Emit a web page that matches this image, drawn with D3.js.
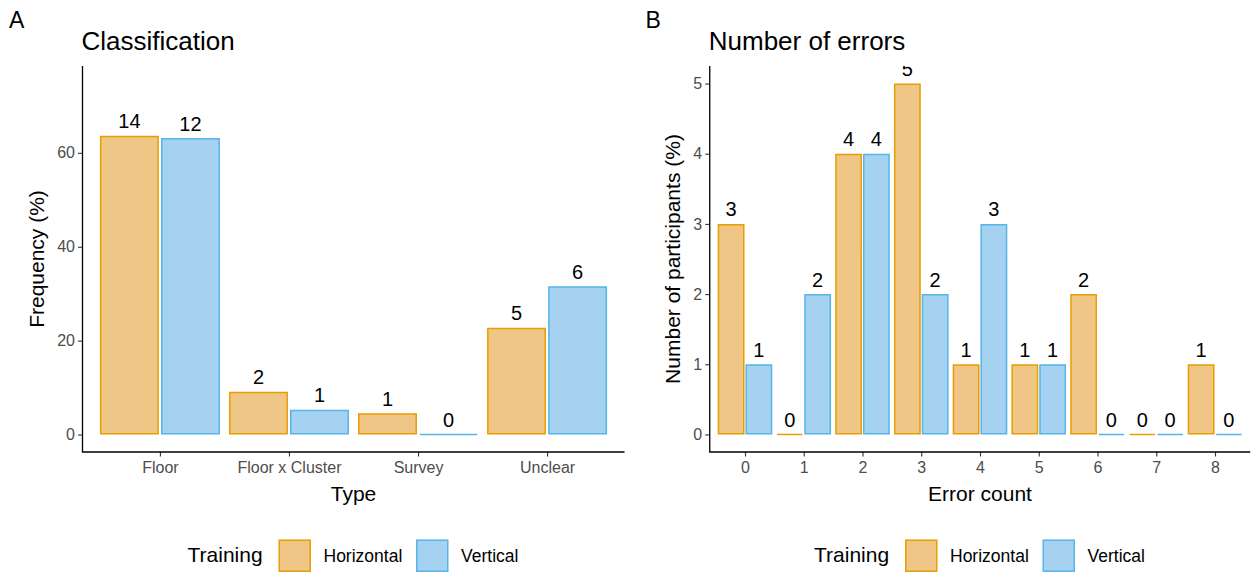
<!DOCTYPE html>
<html>
<head>
<meta charset="utf-8">
<script src="https://cdn.jsdelivr.net/npm/d3@7"></script>
<style>
  html, body { margin: 0; padding: 0; background: #fff; }
  svg { display: block; font-family: "Liberation Sans", Arial, sans-serif; }
</style>
</head>
<body>
<svg id="chart" width="1252" height="575"></svg>
<script>
// ---- data ----
const trainings = ["Horizontal", "Vertical"];

// Panel A: classification of strategies, counts per training group
const typeCategories = ["Floor", "Floor x Cluster", "Survey", "Unclear"];
const typeCountsHorizontal = [14, 2, 1, 5];
const typeCountsVertical = [12, 1, 0, 6];
const freqTicks = [0, 20, 40, 60];

// Panel B: number of participants per error count
const errorCategories = ["0", "1", "2", "3", "4", "5", "6", "7", "8"];
const errorCountsHorizontal = [3, 0, 4, 5, 1, 1, 2, 0, 1];
const errorCountsVertical = [1, 2, 4, 2, 3, 1, 0, 0, 0];
const errorTicks = [0, 1, 2, 3, 4, 5];

// ---- styling ----
const strokeColors = { Horizontal: "#E69F00", Vertical: "#56B4E9" };
const fillColors = { Horizontal: "#EFC686", Vertical: "#A6D2F1" };
const tickGrey = "#4D4D4D";

const svg = d3.select("#chart");

function percent(counts) {
  const total = d3.sum(counts);
  return counts.map(c => c / total * 100);
}

function drawPanel(opt) {
  const g = svg.append("g");
  const x = d3.scalePoint().domain(opt.categories).range([opt.left, opt.right]).padding(0.6);
  const y = d3.scaleLinear().domain(opt.yDomain).range([opt.bottom, opt.top]);
  const step = x.step();
  const slot = 0.465 * step;
  const inset = 0.008 * step;
  const sw = 1.5;

  // panel tag and title
  g.append("text").attr("x", opt.tagX).attr("y", 27.5)
    .attr("font-size", 23).attr("fill", "#000").text(opt.tag);
  g.append("text").attr("x", opt.left - 1).attr("y", 49.5)
    .attr("font-size", 26).attr("fill", "#000").text(opt.title);

  // bars (optionally clipped to the panel)
  let clipId = null;
  if (opt.clip) {
    clipId = "clip-" + opt.tag;
    svg.append("clipPath").attr("id", clipId).append("rect")
      .attr("x", opt.left).attr("y", opt.top)
      .attr("width", opt.right - opt.left).attr("height", opt.bottom - opt.top);
  }
  const barsG = g.append("g");
  if (clipId) barsG.attr("clip-path", `url(#${clipId})`);

  const rows = [];
  opt.categories.forEach((cat, i) => {
    trainings.forEach((tr, j) => {
      rows.push({ cat, tr, j, value: opt.values[tr][i], label: opt.labels[tr][i] });
    });
  });

  rows.forEach(d => {
    const c = x(d.cat);
    const x0 = d.j === 0 ? c - slot : c + inset;
    const x1 = d.j === 0 ? c - inset : c + slot;
    const yv = y(d.value), y0 = y(0);
    const l = x0 + sw / 2, r = x1 - sw / 2;
    const t = yv + sw / 2;
    const b = y0 - sw / 2;
    const path = d.value > 0
      ? `M${l},${t}H${r}V${b}H${l}Z`
      : `M${l},${y0}H${r}`;
    barsG.append("path").attr("d", path)
      .attr("fill", d.value > 0 ? fillColors[d.tr] : "none")
      .attr("stroke", strokeColors[d.tr]).attr("stroke-width", sw);
    barsG.append("text")
      .attr("x", (x0 + x1) / 2).attr("y", yv - 7.5)
      .attr("text-anchor", "middle").attr("font-size", 20).attr("fill", "#000")
      .text(d.label);
  });

  // axes
  const yAxis = d3.axisLeft(y).tickValues(opt.yTicks).tickFormat(d3.format("d"))
    .tickSize(4.5).tickPadding(3);
  const ya = g.append("g").attr("transform", `translate(${opt.left},0)`).call(yAxis);
  ya.select(".domain").remove();
  ya.selectAll(".tick line").attr("stroke", "#333").attr("stroke-width", 1.1);
  ya.selectAll(".tick text").attr("font-size", 16).attr("fill", tickGrey)
    .attr("font-family", "Liberation Sans, Arial, sans-serif");

  const xAxis = d3.axisBottom(x).tickSize(4.5).tickPadding(5);
  const xa = g.append("g").attr("transform", `translate(0,${opt.bottom})`).call(xAxis);
  xa.select(".domain").remove();
  xa.selectAll(".tick line").attr("stroke", "#333").attr("stroke-width", 1.1);
  xa.selectAll(".tick text").attr("font-size", 16).attr("fill", tickGrey)
    .attr("font-family", "Liberation Sans, Arial, sans-serif");

  // axis lines
  g.append("path")
    .attr("d", `M${opt.left},${opt.top}V${opt.bottom}H${opt.right}`)
    .attr("fill", "none").attr("stroke", "#000").attr("stroke-width", 1.3);

  // axis titles
  const cx = (opt.left + opt.right) / 2;
  g.append("text").attr("x", cx).attr("y", 501).attr("text-anchor", "middle")
    .attr("font-size", 21).attr("fill", "#000").text(opt.xTitle);
  g.append("text")
    .attr("transform", `translate(${opt.yTitleX},${(opt.top + opt.bottom) / 2}) rotate(-90)`)
    .attr("text-anchor", "middle").attr("font-size", 21).attr("fill", "#000")
    .text(opt.yTitle);

  // legend
  const lg = g.append("g").attr("transform", `translate(${cx},0)`);
  const ky = 555.7, ks = 32.5;
  lg.append("text").attr("x", -166).attr("y", 562).attr("font-size", 21)
    .attr("fill", "#000").text("Training");
  const keyX = [-75, 62.5], textX = [-30, 107.5];
  trainings.forEach((tr, j) => {
    lg.append("rect")
      .attr("x", keyX[j] + 0.75).attr("y", ky - ks / 2 + 0.75)
      .attr("width", ks - 1.5).attr("height", ks - 1.5)
      .attr("fill", fillColors[tr]).attr("stroke", strokeColors[tr]).attr("stroke-width", 1.5);
    lg.append("text").attr("x", textX[j]).attr("y", 561.5).attr("font-size", 17.5)
      .attr("fill", "#000").text(tr);
  });
}

drawPanel({
  tag: "A", tagX: 9, title: "Classification",
  categories: typeCategories,
  values: { Horizontal: percent(typeCountsHorizontal), Vertical: percent(typeCountsVertical) },
  labels: { Horizontal: typeCountsHorizontal, Vertical: typeCountsVertical },
  yDomain: [-3.72, 78.5], yTicks: freqTicks,
  left: 82.5, right: 624.5, top: 66, bottom: 452,
  xTitle: "Type", yTitle: "Frequency (%)", yTitleX: 44,
  clip: false
});

drawPanel({
  tag: "B", tagX: 645.5, title: "Number of errors",
  categories: errorCategories,
  values: { Horizontal: errorCountsHorizontal, Vertical: errorCountsVertical },
  labels: { Horizontal: errorCountsHorizontal, Vertical: errorCountsVertical },
  yDomain: [-0.25, 5.25], yTicks: errorTicks,
  left: 709.75, right: 1250.25, top: 66, bottom: 452,
  xTitle: "Error count", yTitle: "Number of participants (%)", yTitleX: 680,
  clip: true
});
</script>
</body>
</html>
